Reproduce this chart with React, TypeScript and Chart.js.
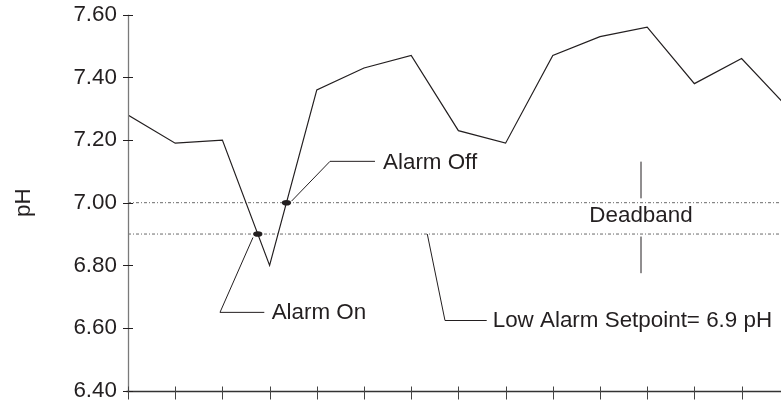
import React, { useEffect, useRef } from 'react';
import { Chart, registerables } from 'chart.js';

Chart.register(...registerables);

// ---- data ----
const sampleIndex = [0, 1, 2, 3, 4, 5, 6, 7, 8, 9, 10, 11, 12, 13, 14];
const phValues = [7.28, 7.19, 7.2, 6.8, 7.36, 7.43, 7.47, 7.23, 7.19, 7.47, 7.53, 7.56, 7.38, 7.46, 7.3];
const yTicks = [6.4, 6.6, 6.8, 7.0, 7.2, 7.4, 7.6];
const lowAlarmSetpoint = 6.9;
const alarmOffLevel = 7.0;
const xVisibleMax = 13.835;

// annotation anchors (data units: sample index, pH)
const alarmOffLeader = [[3.465, 7.005], [4.28, 7.132], [5.233, 7.132]];
const alarmOffText = [5.403, 7.132];
const alarmOnLeader = [[2.648, 6.889], [1.949, 6.65], [2.888, 6.65]];
const alarmOnText = [3.044, 6.65];
const setpointLeader = [[6.341, 6.9], [6.716, 6.624], [7.6, 6.624]];
const setpointText = [7.727, 6.624];
const deadbandX = 10.869;
const deadbandUpper = [7.131, 7.014];
const deadbandLower = [6.892, 6.775];
const deadbandTextY = 6.958;

const FONT = '"Liberation Sans", Arial, Helvetica, sans-serif';
const FONT_SIZE = 22.4;
const INK = '#231f20';
const GUIDE = '#6a6a6a';

function crossing(threshold: number, dir: number, start: number) {
  for (let i = start; i < phValues.length - 1; i++) {
    const a = phValues[i];
    const b = phValues[i + 1];
    const hit = dir < 0 ? a > threshold && b <= threshold : a < threshold && b >= threshold;
    if (hit) {
      const t = (threshold - a) / (b - a);
      return { x: sampleIndex[i] + t * (sampleIndex[i + 1] - sampleIndex[i]), y: threshold, i };
    }
  }
  return null;
}

const alarmOn = crossing(lowAlarmSetpoint, -1, 0)!;
const alarmOff = crossing(alarmOffLevel, 1, alarmOn.i)!;

const annotationPlugin = {
  id: 'phAnnotations',
  afterDraw(chart: any) {
    const ctx = chart.ctx as CanvasRenderingContext2D;
    const xs = chart.scales.x;
    const ys = chart.scales.y;
    const area = chart.chartArea;
    const P = (x: number, y: number) => [xs.getPixelForValue(x), ys.getPixelForValue(y)];
    ctx.save();

    // axes
    const axisX = Math.round(area.left) + 0.5;
    const axisY = Math.round(area.bottom) + 0.5;
    ctx.strokeStyle = '#7a7a7a';
    ctx.lineWidth = 1.3;
    ctx.beginPath();
    ctx.moveTo(axisX, ys.getPixelForValue(yTicks[yTicks.length - 1]));
    ctx.lineTo(axisX, axisY);
    ctx.stroke();
    ctx.strokeStyle = '#333';
    ctx.lineWidth = 1.5;
    ctx.beginPath();
    ctx.moveTo(axisX - 2, axisY);
    ctx.lineTo(chart.width, axisY);
    ctx.stroke();

    // tick marks
    ctx.strokeStyle = INK;
    ctx.lineWidth = 1;
    for (const v of yTicks) {
      const y = Math.round(ys.getPixelForValue(v)) + 0.5;
      ctx.beginPath();
      ctx.moveTo(axisX - 5.5, y);
      ctx.lineTo(axisX + 4.5, y);
      ctx.stroke();
    }
    ctx.strokeStyle = '#444';
    for (const s of sampleIndex) {
      if (s > xVisibleMax) continue;
      const x = Math.round(xs.getPixelForValue(s)) + 0.5;
      ctx.beginPath();
      ctx.moveTo(x, axisY - 5);
      ctx.lineTo(x, axisY + 8);
      ctx.stroke();
    }

    // leader lines
    ctx.strokeStyle = INK;
    ctx.lineWidth = 1;
    const poly = (pts: number[][]) => {
      ctx.beginPath();
      pts.forEach(([x, y], k) => {
        const [px, py] = P(x, y);
        if (k === 0) ctx.moveTo(px, py);
        else ctx.lineTo(px, py);
      });
      ctx.stroke();
    };
    poly(alarmOffLeader);
    poly(alarmOnLeader);
    poly(setpointLeader);
    poly([[deadbandX, deadbandUpper[0]], [deadbandX, deadbandUpper[1]]]);
    poly([[deadbandX, deadbandLower[0]], [deadbandX, deadbandLower[1]]]);

    // alarm dots
    ctx.fillStyle = INK;
    for (const c of [alarmOn, alarmOff]) {
      const [px, py] = P(c.x, c.y);
      ctx.beginPath();
      ctx.ellipse(px, py, 4.6, 2.8, 0, 0, Math.PI * 2);
      ctx.fill();
    }

    // texts
    ctx.font = `${FONT_SIZE}px ${FONT}`;
    ctx.fillStyle = INK;
    ctx.textBaseline = 'middle';
    ctx.textAlign = 'left';
    let [tx, ty] = P(alarmOffText[0], alarmOffText[1]);
    ctx.fillText('Alarm Off', tx, ty + 1);
    [tx, ty] = P(alarmOnText[0], alarmOnText[1]);
    ctx.fillText('Alarm On', tx, ty);
    [tx, ty] = P(setpointText[0], setpointText[1]);
    ctx.fillText('Low Alarm Setpoint= 6.9 pH', tx, ty);
    ctx.textAlign = 'center';
    [tx, ty] = P(deadbandX, deadbandTextY);
    ctx.fillText('Deadband', tx, ty);

    ctx.restore();
  },
};

export default function App() {
  const ref = useRef<HTMLCanvasElement>(null);
  useEffect(() => {
    const canvas = ref.current!;
    const lastX = sampleIndex[sampleIndex.length - 1];
    const chart = new Chart(canvas, {
      type: 'line',
      data: {
        datasets: [
          {
            label: 'pH',
            data: sampleIndex.map((x, i) => ({ x, y: phValues[i] })),
            borderColor: INK,
            borderWidth: 1.2,
            pointRadius: 0,
            tension: 0,
            order: 0,
          },
          {
            label: 'Alarm off level',
            data: [
              { x: sampleIndex[0], y: alarmOffLevel },
              { x: lastX, y: alarmOffLevel },
            ],
            borderColor: GUIDE,
            borderWidth: 1,
            borderDash: [3, 2, 1, 2],
            pointRadius: 0,
            order: 1,
          },
          {
            label: 'Low alarm setpoint',
            data: [
              { x: sampleIndex[0], y: lowAlarmSetpoint },
              { x: lastX, y: lowAlarmSetpoint },
            ],
            borderColor: GUIDE,
            borderWidth: 1,
            borderDash: [3, 2, 1, 2],
            pointRadius: 0,
            order: 2,
          },
        ],
      },
      options: {
        responsive: false,
        animation: false,
        devicePixelRatio: 1,
        events: [],
        layout: { padding: { top: 14.7, left: 0, right: 0, bottom: 0 } },
        plugins: { legend: { display: false }, tooltip: { enabled: false } },
        scales: {
          x: {
            type: 'linear',
            min: 0,
            max: xVisibleMax,
            grid: { display: false, drawTicks: false },
            border: { display: false },
            ticks: { display: false, stepSize: 1 },
            afterFit: (s: any) => {
              s.height = 9.3;
              s.paddingLeft = 0;
              s.paddingRight = 0;
            },
          },
          y: {
            type: 'linear',
            min: yTicks[0],
            max: yTicks[yTicks.length - 1],
            grid: { display: false, drawTicks: false },
            border: { display: false },
            afterBuildTicks: (s: any) => {
              s.ticks = yTicks.map((v) => ({ value: v }));
            },
            ticks: {
              padding: 11,
              color: INK,
              font: { family: FONT, size: FONT_SIZE },
              callback: (v: any) => Number(v).toFixed(2),
            },
            title: {
              display: true,
              text: 'pH',
              color: INK,
              font: { family: FONT, size: FONT_SIZE },
              padding: { top: 10, bottom: 0 },
            },
            afterFit: (s: any) => {
              s.width = 128;
              s.paddingTop = 0;
              s.paddingBottom = 0;
            },
          },
        },
      } as any,
      plugins: [annotationPlugin],
    });
    return () => chart.destroy();
  }, []);
  return (
    <div style={{ position: 'absolute', left: 0, top: 0, width: 781, height: 400 }}>
      <canvas ref={ref} width={781} height={400} style={{ display: 'block' }} />
    </div>
  );
}
